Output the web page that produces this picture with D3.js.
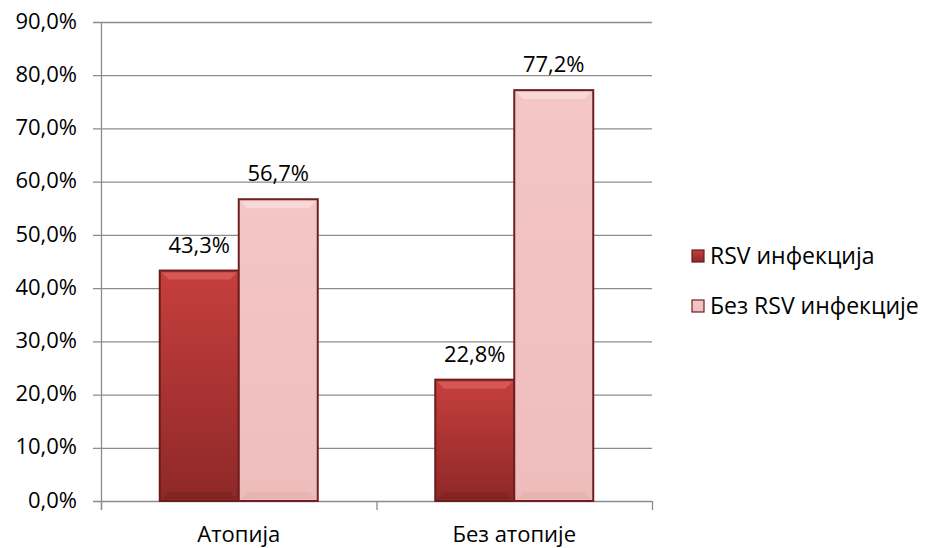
<!DOCTYPE html>
<html><head><meta charset="utf-8">
<script src="https://cdn.jsdelivr.net/npm/d3@7"></script>
<style>body{margin:0;background:#fff}text{font-family:"Open Sans",Lato,sans-serif;fill:#000}</style>
</head><body><svg id="c" width="930" height="548"></svg>
<script>
const categories = ["Атопија", "Без атопије"];
const seriesNames = ["RSV инфекција", "Без RSV инфекције"];
const rsv = [43.3, 22.8];
const noRsv = [56.7, 77.2];
const yTicks = [0,10,20,30,40,50,60,70,80,90];

const svg = d3.select("#c");
const pLeft = 101, pRight = 652, pTop = 22, pBottom = 501;
const FS = 22;
const x = d3.scaleBand().domain(categories).range([pLeft, pRight]).paddingInner(0).paddingOuter(0);
const y = d3.scaleLinear().domain([0, 90]).range([pBottom, pTop]);
const barW = 79;

const defs = svg.append("defs");
function grad(id, c1, c2) {
  const g = defs.append("linearGradient").attr("id", id).attr("x1",0).attr("y1",0).attr("x2",0).attr("y2",1);
  g.append("stop").attr("offset","0%").attr("stop-color",c1);
  g.append("stop").attr("offset","100%").attr("stop-color",c2);
}
grad("gRed", "#c63f3d", "#8e2828");
grad("gPink", "#f4c6c6", "#efbcbc");
const fills = ["url(#gRed)", "url(#gPink)"];
const strokes = ["#6a1c1c", "#6e2020"];

svg.append("g").selectAll("line").data(yTicks).join("line")
  .attr("x1", pLeft - 8).attr("x2", pRight)
  .attr("y1", d => y(d)+0.5).attr("y2", d => y(d)+0.5)
  .attr("stroke", "#8c8c8c").attr("stroke-width", 1.3);
svg.append("line").attr("x1", pLeft+0.5).attr("x2", pLeft+0.5).attr("y1", pTop).attr("y2", pBottom+9)
  .attr("stroke", "#8c8c8c").attr("stroke-width", 1.3);
svg.append("g").selectAll("line").data([pLeft, pLeft + x.bandwidth(), pRight]).join("line")
  .attr("x1", d => d+0.5).attr("x2", d => d+0.5).attr("y1", pBottom).attr("y2", pBottom+9)
  .attr("stroke", "#8c8c8c").attr("stroke-width", 1.3);

svg.append("g").selectAll("text").data(yTicks).join("text")
  .attr("x", 77).attr("y", d => y(d) - 1).attr("dy", "0.35em")
  .attr("text-anchor", "end").attr("font-size", FS)
  .text(d => d.toFixed(1).replace(".", ",") + "%");

svg.append("g").selectAll("text").data(categories).join("text")
  .attr("x", d => x(d) + x.bandwidth()/2).attr("y", 542)
  .attr("text-anchor", "middle").attr("font-size", FS).text(d => d);

const series = [rsv, noRsv];
series.forEach((vals, si) => {
  const g = svg.append("g");
  vals.forEach((v, ci) => {
    const cx = x(categories[ci]) + x.bandwidth()/2;
    const bx = si === 0 ? cx - barW : cx;
    const by = y(v), bh = pBottom - y(v);
    g.append("rect").attr("x", bx).attr("y", by).attr("width", barW).attr("height", bh)
      .attr("fill", fills[si]).attr("stroke", strokes[si]).attr("stroke-width", 2);
    g.append("path")
      .attr("d", `M${bx+2},${by+2} L${bx+barW-2},${by+2} L${bx+barW-9},${by+9} L${bx+9},${by+9} Z`)
      .attr("fill", si === 0 ? "#e06a68" : "#fbe4e4").attr("opacity", 0.6);
    g.append("path")
      .attr("d", `M${bx+2},${by+bh-2} L${bx+barW-2},${by+bh-2} L${bx+barW-9},${by+bh-9} L${bx+9},${by+bh-9} Z`)
      .attr("fill", si === 0 ? "#6e1e1e" : "#d9a4a4").attr("opacity", 0.35);
    g.append("text").attr("x", bx + barW/2).attr("y", by - 18)
      .attr("text-anchor", "middle").attr("font-size", FS)
      .text(v.toFixed(1).replace(".", ",") + "%");
  });
});

const leg = svg.append("g");
seriesNames.forEach((n, i) => {
  const ly = 256 + i*50;
  leg.append("rect").attr("x", 692).attr("y", ly-6).attr("width", 12).attr("height", 12)
    .attr("fill", fills[i]).attr("stroke", strokes[i]).attr("stroke-width", 1.2);
  leg.append("text").attr("x", 710).attr("y", ly).attr("dy", "0.35em").attr("font-size", 23).text(n);
});
</script></body></html>
